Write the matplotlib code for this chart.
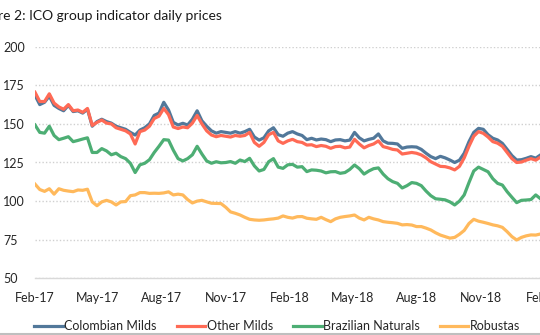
import pandas as pd
import matplotlib.pyplot as plt
import matplotlib.dates as mdates
from matplotlib.lines import Line2D

plt.rcParams['font.family'] = ['Lato', 'DejaVu Sans']

# prices (US cents/lb) read at evenly spaced points through the period
dates = pd.date_range('2017-02-01', '2019-01-25', periods=107)

colombian_milds = [
    168.5, 162.5, 164.0, 168.0, 162.0, 160.0, 158.5, 162.0, 158.0, 158.5,
    157.0, 159.5, 148.5, 151.5, 153.0, 151.5, 150.5, 148.5, 147.5, 146.5,
    144.5, 142.8, 146.0, 147.5, 150.0, 155.5, 157.0, 164.0, 159.0, 151.0,
    149.3, 150.4, 149.3, 153.0, 158.5, 152.0, 148.5, 145.5, 144.0, 145.0,
    144.5, 144.0, 145.0, 144.0, 145.0, 146.5, 141.5, 139.5, 141.0, 145.5,
    147.5, 143.0, 142.0, 144.0, 145.0, 143.5, 142.5, 139.8, 140.7, 139.6,
    140.2, 139.8, 138.5, 139.6, 139.8, 139.0, 139.5, 144.5, 141.0, 139.0,
    140.0, 140.7, 143.5, 139.0, 137.5, 137.4, 137.0, 134.2, 135.0, 135.2,
    135.0, 133.5, 131.0, 128.8, 127.5, 129.0, 128.0, 126.6, 125.0, 126.5,
    131.0, 138.5, 144.5, 147.1, 146.5, 143.0, 140.7, 139.6, 137.4, 133.5,
    129.5, 126.6, 126.8, 127.7, 128.8, 127.8, 129.9,
]
other_milds = [
    170.5, 164.5, 164.5, 169.5, 163.5, 161.0, 159.5, 162.5, 158.5, 159.0,
    157.5, 160.0, 149.0, 151.0, 152.5, 150.5, 150.0, 147.5, 146.5, 145.5,
    143.5, 137.0, 145.0, 146.0, 148.5, 153.5, 155.0, 160.0, 156.0, 148.0,
    147.0, 148.0, 147.5, 150.5, 155.5, 150.0, 145.5, 142.8, 141.7, 142.5,
    142.0, 141.5, 142.5, 142.0, 142.5, 144.5, 138.0, 135.5, 138.0, 143.0,
    144.5, 139.0, 137.4, 139.0, 140.0, 138.5, 138.0, 136.3, 136.5, 135.3,
    136.0, 135.5, 134.2, 135.3, 135.5, 134.5, 135.0, 140.0, 137.0, 134.5,
    136.0, 137.0, 139.0, 135.3, 134.5, 133.5, 133.1, 130.5, 131.0, 131.5,
    131.0, 129.9, 128.0, 125.5, 124.0, 122.5, 122.3, 121.5, 120.2, 122.5,
    128.0, 135.5, 142.0, 145.0, 143.9, 141.5, 138.5, 137.5, 135.5, 131.5,
    127.5, 125.0, 125.3, 126.5, 127.5, 126.5, 128.5,
]
brazilian_naturals = [
    149.3, 144.5, 144.0, 148.5, 142.5, 139.8, 140.7, 141.7, 138.5, 139.3,
    140.2, 141.0, 131.5, 131.5, 134.0, 132.5, 130.0, 131.0, 128.8, 127.5,
    124.5, 118.5, 123.5, 124.5, 126.8, 131.5, 135.5, 139.8, 139.5, 133.0,
    127.5, 126.0, 127.5, 130.0, 135.5, 130.5, 126.0, 124.5, 125.5, 124.8,
    125.0, 125.6, 124.5, 126.6, 125.6, 127.7, 122.8, 119.5, 120.5, 125.5,
    127.5, 122.0, 121.2, 123.5, 123.8, 122.0, 122.3, 119.1, 120.2, 120.0,
    119.5, 118.3, 119.0, 119.1, 118.0, 118.5, 120.5, 123.4, 121.0, 117.5,
    119.5, 121.0, 121.5, 117.5, 114.5, 112.6, 111.5, 108.5, 110.0, 112.0,
    111.5, 110.0, 106.5, 103.5, 101.5, 101.2, 100.8, 99.5, 97.5, 100.0,
    104.0, 112.0, 119.5, 122.0, 120.5, 119.0, 114.5, 111.5, 110.4, 106.1,
    102.5, 99.0, 100.5, 100.7, 101.0, 104.0, 101.5,
]
robustas = [
    111.0, 107.5, 106.3, 108.0, 104.5, 108.0, 107.0, 106.5, 106.1, 107.2,
    107.0, 107.7, 99.5, 97.0, 99.5, 100.5, 99.5, 97.5, 99.5, 99.7,
    103.5, 104.0, 105.5, 105.5, 105.0, 105.1, 105.0, 105.3, 106.0, 104.0,
    104.5, 104.0, 101.0, 98.8, 100.0, 100.5, 99.5, 98.6, 98.5, 98.4,
    96.0, 93.0, 92.1, 91.0, 89.5, 88.2, 87.8, 87.6, 87.8, 88.2,
    88.5, 89.0, 90.4, 89.5, 89.0, 89.9, 90.0, 88.9, 88.5, 88.2,
    89.5, 88.0, 86.7, 88.5, 89.5, 90.0, 90.4, 91.0, 89.0, 87.8,
    89.5, 88.5, 87.8, 86.7, 86.3, 86.0, 85.6, 84.6, 84.8, 84.5,
    83.5, 83.5, 82.5, 81.3, 79.5, 78.0, 77.0, 76.0, 76.5, 78.5,
    81.0, 85.5, 88.2, 87.0, 86.3, 85.5, 84.6, 84.0, 83.0, 80.2,
    77.0, 74.8, 76.5, 77.5, 78.1, 78.0, 78.7,
]

series = [
    ('Colombian Milds', colombian_milds, '#52789A'),
    ('Other Milds', other_milds, '#FF6A55'),
    ('Brazilian Naturals', brazilian_naturals, '#4DAE74'),
    ('Robustas', robustas, '#FFB95C'),
]
y_ticks = [50, 75, 100, 125, 150, 175, 200]

fig = plt.figure(figsize=(5.4, 3.35), dpi=100)
# axes run past the right edge of the canvas, as in the report page
ax = fig.add_axes([35 / 540, 1 - 278.3 / 335, 516 / 540, (278.3 - 46.7) / 335])

for name, values, color in series:
    ax.plot(dates, values, color=color, lw=2.3, label=name, solid_joinstyle='round')

ax.set_ylim(50, 200)
ax.set_xlim(pd.Timestamp('2017-02-01'), pd.Timestamp('2019-02-09'))
ax.set_yticks(y_ticks)
ax.xaxis.set_major_locator(mdates.MonthLocator(bymonth=[2, 5, 8, 11]))
ax.xaxis.set_major_formatter(mdates.DateFormatter('%b-%y'))

ax.grid(axis='y', color='#D0D0D0', linestyle=(0, (1, 1.5)), lw=1)
ax.set_axisbelow(True)
for side in ['top', 'right', 'left']:
    ax.spines[side].set_visible(False)
ax.spines['bottom'].set_color('#D9D9D9')
ax.spines['bottom'].set_linewidth(1)

ax.tick_params(axis='both', length=0, labelsize=9, colors='#262626')
ax.tick_params(axis='x', pad=10)
ax.tick_params(axis='y', pad=23)
for lbl in ax.get_yticklabels():
    lbl.set_horizontalalignment('left')

fig.text(222 / 540, 1 - 19.5 / 335, 'Figure 2: ICO group indicator daily prices',
         ha='right', va='baseline', fontsize=10, color='#1A1A1A')

handles, labels = ax.get_legend_handles_labels()
fig.legend(handles, labels, loc='center', bbox_to_anchor=(277 / 540, 1 - 326 / 335),
           ncol=4, frameon=False, fontsize=9, handlelength=2.3,
           handletextpad=0.1, columnspacing=1.6, labelcolor='#262626')

fig.add_artist(Line2D([0, 1], [0.003, 0.003], color='#BFBFBF', lw=1.5,
                      transform=fig.transFigure))

fig.savefig('out.png', dpi=100)
